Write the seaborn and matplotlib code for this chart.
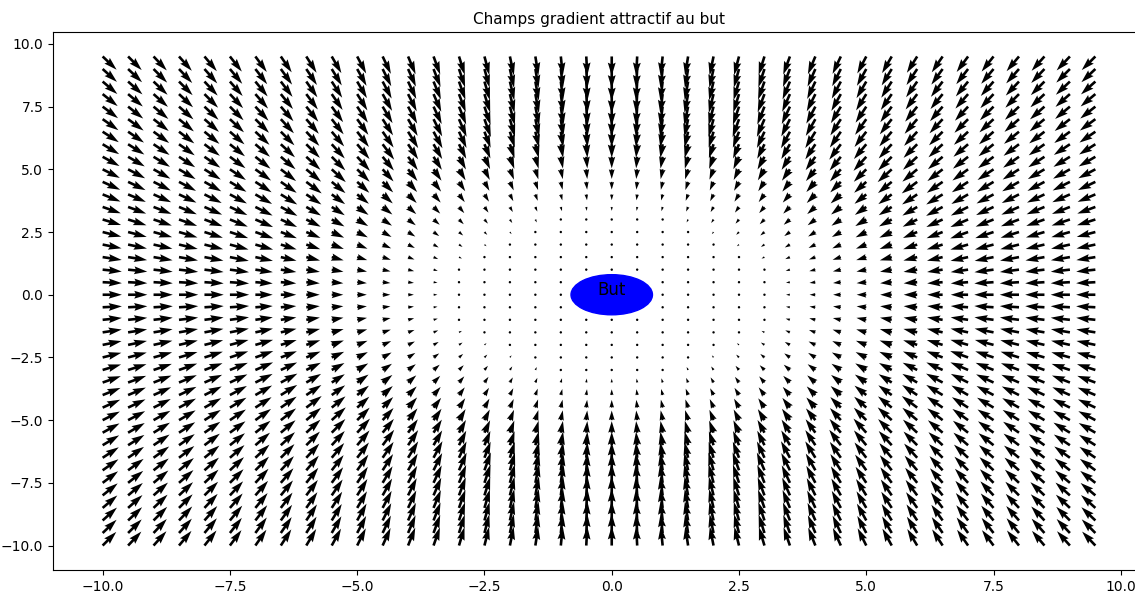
import numpy as np
import matplotlib
matplotlib.use("Agg")
import matplotlib.pyplot as plt
import seaborn as sns

# Sampling grid of the field
x_values = np.arange(-10, 10, 0.5)
y_values = np.arange(-10, 10, 0.5)

# Goal and attractive-field parameters
goal = (0.0, 0.0)
goal_radius = 0.8      # drawn disc
r = 2.5                # no pull inside this distance
s = 5.0                # spread of the linear zone
alpha = 1.0            # gain

sns.set_style("ticks", {
    "axes.edgecolor": "black",
    "xtick.color": "black",
    "ytick.color": "black",
    "text.color": "black",
    "axes.labelcolor": "black",
})
plt.rcParams["font.family"] = ["DejaVu Sans"]

X, Y = np.meshgrid(x_values, y_values)
d = np.hypot(goal[0] - X, goal[1] - Y)
theta = np.arctan2(goal[1] - Y, goal[0] - X)
mag = np.where(d < r, 0.0, np.where(d <= r + s, alpha * (d - r), alpha * s))
U = mag * np.cos(theta)
V = mag * np.sin(theta)

fig = plt.figure(figsize=(11.35, 5.92), dpi=100)
ax = fig.add_axes([53 / 1135, 22 / 592, 1092 / 1135, 538 / 592])
ax.quiver(X, Y, U, V)
ax.add_patch(plt.Circle(goal, goal_radius, color="b", zorder=3))
ax.text(goal[0], goal[1], "But", ha="center", fontsize=12, zorder=4)
ax.set_title("Champs gradient attractif au but", fontsize=11)
ax.set_xlim(-10.975, 10.475)
ax.set_ylim(-10.975, 10.475)
ax.tick_params(labelsize=10)

fig.savefig("out.png", dpi=100)
